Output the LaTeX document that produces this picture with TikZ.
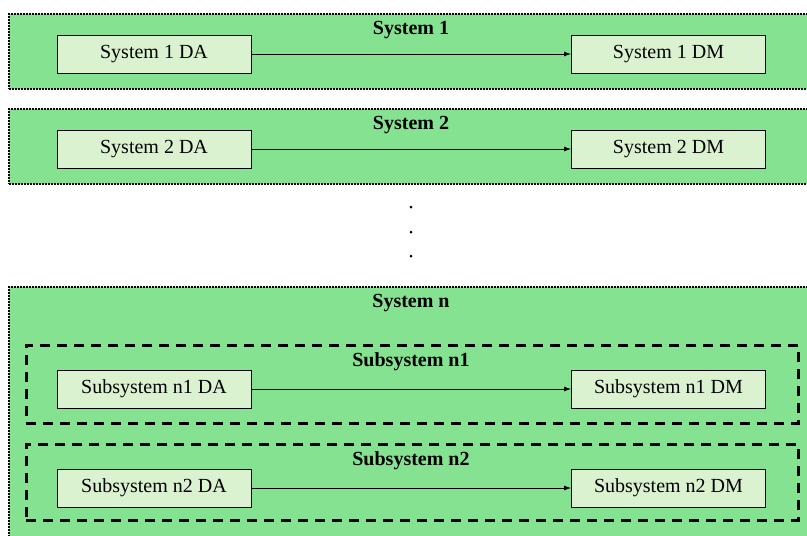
\documentclass[tikz,border=0pt]{standalone}
\usepackage{fontspec}
\setmainfont{Liberation Serif}
\usetikzlibrary{arrows.meta, positioning}
\definecolor{sysgreen}{RGB}{133,226,145}
\definecolor{boxgreen}{RGB}{218,242,208}

\begin{document}
\begin{tikzpicture}[x=1pt, y=-1pt,
        sysbox/.style={rectangle, draw, densely dotted, line width=2pt, fill=sysgreen, anchor=north west, minimum width=830pt},
        subbox/.style={rectangle, draw, line width=2.8pt, dash pattern=on 10pt off 7pt, anchor=north west, minimum width=772pt},
        unit/.style={rectangle, draw, line width=1pt, fill=boxgreen, minimum width=194pt, minimum height=38pt, font=\fontsize{20}{23}\selectfont},
        title/.style={font=\fontsize{20}{23}\selectfont\bfseries},
        arrow/.style={-{Latex[length=7pt, width=5pt]}, line width=0.8pt},
        vdot/.style={circle, fill, inner sep=0pt, minimum size=3pt}
    ]
        \clip (0,0) rectangle (807,536);
        \fill[white] (0,0) rectangle (807,536);

        % Systems 1 and 2
        \foreach \i/\top in {1/13, 2/108} {
            \node[sysbox, minimum height=75pt] (sys\i) at (8, \top) {};
            \node[title] (t\i) at (411, \top+17) {System \i};
            \node[unit] (da\i) at (154, \top+41) {System \i\ DA};
            \node[unit] (dm\i) at (668.5, \top+41) {System \i\ DM};
            \draw[arrow] (da\i) -- (dm\i);
        }

        % Dots
        \node[vdot] (p1) at (411, 207) {};
        \node[vdot] (p2) at (411, 232) {};
        \node[vdot] (p3) at (411, 256) {};

        % System n
        \node[sysbox, minimum height=300pt] (sysn) at (8, 286) {};
        \node[title] (tn) at (411, 303) {System n};

        % Subsystems
        \foreach \j/\top/\h in {1/344/78, 2/443/76} {
            \node[subbox, minimum height=\h pt] (sub\j) at (25, \top) {};
            \node[title] (ts\j) at (411, \top+18) {Subsystem n\j};
            \node[unit] (sda\j) at (154, \top+45) {Subsystem n\j\ DA};
            \node[unit] (sdm\j) at (668.5, \top+45) {Subsystem n\j\ DM};
            \draw[arrow] (sda\j) -- (sdm\j);
        }
    \end{tikzpicture}
\end{document}
